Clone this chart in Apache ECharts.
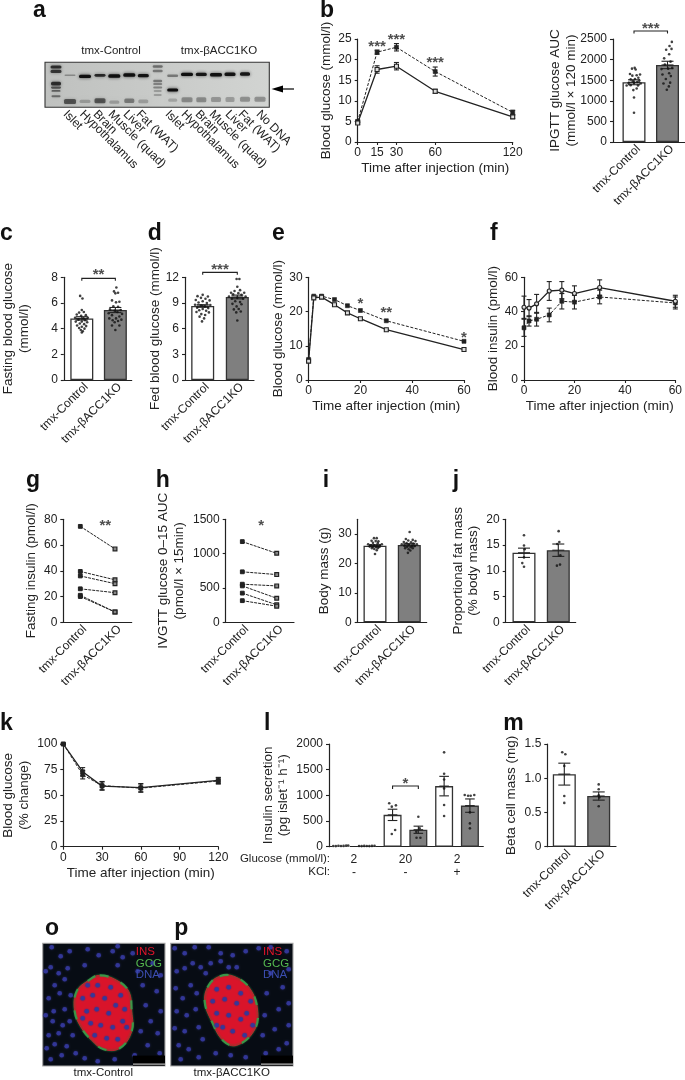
<!DOCTYPE html>
<html><head><meta charset="utf-8">
<style>html,body{margin:0;padding:0;background:#fff}#c{width:685px;height:1080px}</style>
<script src="https://cdn.jsdelivr.net/npm/echarts@6/dist/echarts.min.js"></script>
</head><body><div id="c"></div>
<script>
// ---------- data ----------
const groupNames = ['tmx-Control','tmx-βACC1KO'];
const laneNames = ['Islet','Hypothalamus','Brain','Muscle (quad)','Liver','Fat (WAT)','Islet','Hypothalamus','Brain','Muscle (quad)','Liver','Fat (WAT)','No DNA'];
// gel bands: x, y, width, height, darkness
const gelBands = [
[11,4.4,11,2.5,.75],[11,8.7,11,2.5,.7],[11,21,10,3,.75],[11,25,10,1.8,.55],[11,28.4,9,1.5,.5],[11,33.7,9,1.5,.45],
[25,12.7,11,1.2,.3],[25,38.7,12,4,.55],[40,13.7,12,2.6,.95],[40,38.7,11,2.5,.22],[55,12.7,11,2.2,.8],[55,38,11,4,.55],
[69.3,13.4,12,2.8,.95],[69.3,39.5,10,2.5,.22],[84.3,12.4,12,2.8,.95],[84.3,38,10,3.5,.38],[98.3,13,11,2.6,.92],[98.3,38.7,10,3,.22],
[112.7,4,10,2,.45],[112.7,8.5,10,2,.4],[112.7,18.5,9,2,.4],[112.7,21.5,9,1.5,.35],[112.7,25,9,1.5,.35],[112.7,28.5,8,1.3,.3],[112.7,32.5,8,1.3,.3],
[127.7,13.2,11,2,.4],[127.7,27.4,11,2.4,.98],[127.7,37.5,9,2.5,.2],
[142,11.7,12,2.6,.95],[142,37,11,4,.32],[156.3,11.7,11,2.6,.9],[156.3,37,10,4,.32],[171,12,12,2.8,.95],[171,36.8,10,4,.27],
[185,11.7,11,2.8,.92],[185,36.8,9,4,.25],[200,11.4,10,2.8,.9],[200,36.5,10,4,.3],[215,36.5,11,4,.3]
];
// IPGTT time course, panel b
const tB=[0,15,30,60,120];
const bCtl=[4.6,17.6,18.4,12.3,6.1], bCtlErr=[.3,.9,.9,.5,.4];
const bKO=[5,21.8,23,17.1,7.2], bKOErr=[.3,.5,.9,1.1,.5];
const bStars=[[15,23.8,'***'],[30,25.4,'***'],[60,19.7,'***']];
// IPGTT AUC
const bAUC=[1450,1870], bAUCErr=[60,90];
const bAUCdotsC=[[0,710],[0,1080],[-.02,1260],[.08,1300],[-.22,1370],[-.1,1380],[.12,1370],[.2,1420],[-.16,1430],[0,1440],[.1,1460],[-.04,1480],[.16,1490],[-.1,1520],[.03,1530],[.13,1560],[-.05,1610],[.08,1620],[-.12,1650],[.18,1640],[-.06,1780],[.05,1760],[.02,1800]];
const bAUCdotsK=[[-.02,1270],[.04,1350],[-.12,1420],[.08,1440],[-.05,1530],[.1,1600],[-.15,1640],[.05,1670],[-.18,1770],[.02,1780],[.14,1800],[-.08,1880],[.09,1950],[-.1,2030],[.05,2130],[.12,2260],[-.04,2240],[.06,2330],[.13,2430]];
const cVals=[4.8,5.45], cErr=[.13,.2];
const cDotsC=[[-.05,6.55],[.02,6.35],[0,5.45],[-.08,5.25],[.06,5.3],[-.15,5.1],[.12,5.05],[-.02,5],[-.2,4.85],[.18,4.85],[.05,4.8],[-.1,4.7],[.1,4.65],[0,4.55],[-.18,4.55],[.16,4.5],[-.06,4.4],[.07,4.35],[-.14,4.25],[.13,4.2],[0,4.15],[-.08,4.05],[.08,4],[-.03,3.9],[.03,3.8],[0,3.7]];
const cDotsK=[[.03,7.2],[-.04,6.9],[.08,6.8],[0,6.75],[-.1,6.2],[.12,6.1],[.02,6.05],[-.06,5.75],[.08,5.7],[-.16,5.5],[.16,5.45],[-.02,5.4],[.06,5.3],[-.2,5.2],[.2,5.15],[-.1,5.05],[.12,4.95],[-.18,4.8],[.02,4.8],[.18,4.7],[-.08,4.65],[.08,4.6],[-.02,4.5],[-.1,4.25],[.12,4.25],[0,3.9]];
const dVals=[8.65,9.7], dErr=[.15,.22];
const dDotsC=[[0,9.95],[-.15,9.8],[.15,9.75],[-.05,9.6],[.08,9.5],[-.2,9.35],[.2,9.3],[0,9.2],[-.12,9.05],[.12,9],[-.22,8.8],[.22,8.75],[-.05,8.7],[.06,8.6],[-.16,8.45],[.16,8.4],[0,8.3],[-.1,8.15],[.1,8.1],[-.18,7.95],[.18,7.9],[-.04,7.7],[.07,7.6],[-.09,7.4],[.04,7.2],[-.02,6.85]];
const dDotsK=[[-.02,11.8],[.06,11.8],[0,10.9],[.08,10.5],[-.08,10.4],[-.18,10.2],[.2,10.2],[.03,10.15],[-.12,10],[.12,9.95],[-.24,9.75],[.24,9.75],[0,9.6],[-.16,9.5],[.17,9.5],[-.06,9.2],[.08,9.1],[-.14,8.9],[.12,8.85],[-.02,8.6],[.04,8.3],[-.1,8.25],[.1,8],[-.03,7.9],[0,6.95]];
// ITT / IVGTT panel e
const tE=[0,2,5,10,15,20,30,60];
const eCtl=[5.5,24,24.2,22,19.6,17.9,14.7,8.9], eKO=[6,24.5,24.5,23.5,21.7,20.3,17.3,11.3];
const eStars=[[20,23,'*'],[30,20.2,'**'],[60,13,'*']];
// blood insulin panel f
const fCtl=[42.5,42,44.5,52,52.5,50.5,54,46], fCtlErr=[6.5,5,5.5,5.5,5,4.5,4.5,3.5];
const fKO=[30.5,34.5,35.5,38,46,45.5,48.5,45], fKOErr=[5,3,4,4,4.5,4,4,3.5];
// paired panels
const gPairs=[[74.5,57],[39.5,33],[36,30],[26,23],[21,8],[20,8]];
const gStars=[[1.72,77,'**']];
const hPairs=[[1175,1005],[735,695],[555,530],[530,350],[425,255],[315,235]];
const hStars=[[1.55,1445,'*']];
// body mass, fat mass
const iVals=[26,26.3], iErr=[.35,.4];
const iDotsC=[[-.03,28.6],[.05,28.6],[-.1,27.7],[.02,27.6],[.1,27.5],[-.06,27],[.08,26.9],[-.2,26.5],[.2,26.5],[-.12,26.2],[-.03,26.2],[.06,26.1],[.14,26.1],[-.16,25.8],[-.06,25.7],[.03,25.6],[.12,25.6],[-.09,25.2],[.08,25.2],[-.02,24.9],[.05,24.5],[0,23.2]];
const iDotsK=[[.01,30.7],[-.1,28.3],[.1,28],[-.03,27.8],[.18,27.6],[-.16,27.3],[.05,27.2],[-.08,26.9],[.12,26.8],[-.22,26.5],[.22,26.5],[-.02,26.4],[-.14,26.1],[.08,26],[.16,25.9],[-.06,25.6],[.04,25.5],[-.12,25.2],[.1,25.2],[-.02,24.8],[.03,24.4],[-.04,23.6]];
const jVals=[13.5,14], jErr=[.9,1.2];
const jDotsC=[[0,16.9],[0,14.9],[.02,14.2],[0,12.6],[-.05,11.5],[0,10.8]];
const jDotsK=[[.01,17.7],[.03,15.6],[-.03,15.2],[.06,13],[-.04,11],[.05,11.2]];
// ITT % change
const tK=[0,15,30,60,120];
const kCtl=[100,73,59,57.5,64.5], kKO=[100,70,59.5,57,64], kErr=[.5,4,4,4,3];
// insulin secretion
const lVals=[15,15,620,330,1180,800], lErr=[5,5,110,70,190,130];
const lDots=[
[[-.3,15],[-.2,12],[-.1,18],[0,14],[.1,16],[.2,20],[.28,22]],
[[-.3,14],[-.2,12],[-.1,16],[0,14],[.1,12],[.2,16],[.3,18]],
[[-.13,845],[-.03,780],[.13,805],[.1,325],[-.03,247]],
[[0,584],[.05,357],[-.08,290],[.08,175],[-.07,175]],
[[0,1837],[0,1421],[0,1310],[0,1135],[0,811],[0,597]],
[[-.2,1006],[-.07,993],[.03,993],[.17,1006],[0,668],[0,454],[0,357]]
];
const lGlucose=['2','20','2'], lKCl=['-','-','+'];
// beta cell mass
const mVals=[1.06,.74], mErr=[.16,.06];
const mDotsC=[[-.06,1.38],[.03,1.35],[0,1.18],[0,.74],[0,.64]];
const mDotsK=[[0,.91],[0,.84],[0,.75],[.02,.72],[0,.59]];
// micrographs
const oIslet=[[57,32],[74,37],[86,48],[89,68],[89,88],[77,105],[61,106],[49,97],[39,85],[32,68],[34,48],[46,37]];
const pIslet=[[49,33],[63,33],[79,45],[87,68],[83,88],[66,102],[53,98],[41,78],[34,58],[38,42]];
const oNuclei=[[9,4],[18,13],[27,8],[8,24],[16,30],[25,25],[3,28],[12,42],[22,36],[6,55],[17,50],[28,52],[11,68],[22,66],[3,72],[10,78],[20,82],[27,78],[6,92],[16,90],[30,92],[4,105],[12,101],[24,103],[8,116],[19,112],[33,110],[42,115],[55,118],[72,116],[45,6],[56,12],[70,8],[75,22],[80,14],[90,10],[75,3],[42,22],[95,28],[110,20],[118,32],[100,42],[114,48],[103,62],[118,68],[108,78],[98,88],[115,90],[105,102],[92,112],[117,110],
[45,42],[55,42],[68,44],[78,52],[40,55],[50,52],[62,55],[73,62],[82,66],[44,68],[54,66],[66,70],[80,78],[48,80],[58,82],[70,84],[84,84],[52,92],[64,95],[75,96],[40,75]];
const pNuclei=[[4,5],[14,10],[24,4],[38,4],[50,10],[62,12],[75,8],[88,5],[100,4],[116,8],[6,28],[14,25],[22,20],[30,24],[40,20],[50,18],[58,24],[35,30],[66,24],[5,45],[12,55],[20,42],[26,50],[6,68],[16,72],[25,66],[4,85],[14,88],[28,84],[8,102],[18,106],[32,96],[10,116],[28,114],[45,110],[60,112],[75,114],[95,110],[108,106],[116,100],[92,92],[104,86],[118,82],[94,72],[108,66],[118,60],[96,50],[112,44],[100,30],[118,26],
[46,46],[58,44],[70,50],[80,58],[42,58],[54,56],[66,60],[76,70],[46,70],[58,72],[70,76],[82,82],[52,84],[62,88],[74,92],[46,82]];
const panelCaptions=['INS','GCG','DNA'];

// ---------- layout ----------
const INK='#222', GREY='#7f7f7f', FF='"Liberation Sans",Arial,sans-serif';
const TICK=12, TITLE=13.5, BW=23, XGAP=19.5;
const grids=[],xAxis=[],yAxis=[],series=[],graphic=[];

function axisBase(){return {nameMoveOverlap:false,axisLine:{show:true,onZero:false,lineStyle:{color:INK,width:1.2}},axisTick:{show:true,length:3,lineStyle:{color:INK,width:1.1}},splitLine:{show:false},
  axisLabel:{color:INK,fontSize:TICK,fontFamily:FF,margin:5}};}
function addGrid(b,xc,yc){
  const i=grids.length;
  grids.push({left:b.l,top:b.t,width:b.r-b.l,height:b.b-b.t,containLabel:false});
  const xb=axisBase(),yb=axisBase();
  xAxis.push(Object.assign(xb,{type:'value',gridIndex:i,nameLocation:'middle',nameTextStyle:{color:INK,fontSize:TITLE,fontFamily:FF}},xc,{axisLabel:Object.assign(xb.axisLabel,xc.axisLabel||{}),axisTick:Object.assign(xb.axisTick,xc.axisTick||{})}));
  yAxis.push(Object.assign(yb,{type:'value',gridIndex:i,nameLocation:'middle',nameRotate:90,nameTextStyle:{color:INK,fontSize:TITLE,fontFamily:FF,lineHeight:15.5}},yc,{axisLabel:Object.assign(yb.axisLabel,{margin:6,formatter:v=>String(v)},yc.axisLabel||{}),axisTick:Object.assign(yb.axisTick,yc.axisTick||{})}));
  return i;
}
function errs(i,pts,cap){series.push({type:'custom',xAxisIndex:i,yAxisIndex:i,data:pts,clip:false,z:4,encode:{x:0,y:1},silent:true,
  renderItem(p,api){const x=api.value(0),y=api.value(1),e=api.value(2);const a=api.coord([x,y+e]),b=api.coord([x,y-e]),m=api.coord([x,y]);
    const st={stroke:INK,lineWidth:1.1};const ln=(x1,y1,x2,y2)=>({type:'line',shape:{x1,y1,x2,y2},style:st});
    return {type:'group',children:[ln(a[0],a[1],b[0],b[1]),ln(a[0]-cap,a[1],a[0]+cap,a[1]),ln(b[0]-cap,b[1],b[0]+cap,b[1]),ln(m[0]-cap,m[1],m[0]+cap,m[1])]};}});}
function errsLine(i,pts,cap){series.push({type:'custom',xAxisIndex:i,yAxisIndex:i,data:pts,clip:false,z:2,encode:{x:0,y:1},silent:true,
  renderItem(p,api){const x=api.value(0),y=api.value(1),e=api.value(2);const a=api.coord([x,y+e]),b=api.coord([x,y-e]);
    const st={stroke:INK,lineWidth:1.1};const ln=(x1,y1,x2,y2)=>({type:'line',shape:{x1,y1,x2,y2},style:st});
    return {type:'group',children:[ln(a[0],a[1],b[0],b[1]),ln(a[0]-cap,a[1],a[0]+cap,a[1]),ln(b[0]-cap,b[1],b[0]+cap,b[1])]};}});}
function stars(i,pts,fs){series.push({type:'scatter',xAxisIndex:i,yAxisIndex:i,symbolSize:0,clip:false,z:6,silent:true,data:pts.map(s=>({value:[s[0],s[1]],name:s[2]})),
  label:{show:true,position:'inside',offset:[0,2.5],formatter:q=>q.name,color:INK,fontSize:fs||15,fontFamily:FF,fontWeight:'bold'}});}
function bracket(i,x1,x2,y,drop){series.push({type:'custom',xAxisIndex:i,yAxisIndex:i,data:[[x1,x2,y]],clip:false,z:5,silent:true,encode:{x:[0,1],y:2},
  renderItem(p,api){const a=api.coord([api.value(0),api.value(2)]),b=api.coord([api.value(1),api.value(2)]);
    return {type:'polyline',shape:{points:[[a[0],a[1]+drop],a,b,[b[0],b[1]+drop]]},style:{stroke:INK,lineWidth:1.1,fill:null}};}});}
function lineS(i,xs,ys,dashed,symbol,open){series.push({type:'line',xAxisIndex:i,yAxisIndex:i,data:xs.map((x,k)=>[x,ys[k]]),clip:false,z:3,silent:true,
  symbol,symbolSize:open?4:4,showAllSymbol:true,lineStyle:{color:INK,width:dashed?1:1.3,type:dashed?[3,1.6]:'solid'},itemStyle:{color:open?'#ddd':INK,borderColor:INK,borderWidth:open?1.1:0.6,opacity:1}});}
function dots(i,pos,list){series.push({type:'scatter',xAxisIndex:i,yAxisIndex:i,data:list.map(d=>[pos+d[0],d[1]]),symbolSize:2.6,clip:false,z:5,silent:true,itemStyle:{color:'#111'}});}

function catAxisOpts(b,c1,cN,N,shift){const sp=(cN-c1)/(N-1);const u=shift/sp;return {min:1-(c1-b.l)/sp,max:N+(b.r-cN)/sp,sp,u};}
function rotLabels(o,N){const vals=[];for(let k=1;k<=N;k++)vals.push(k+o.u);
  return {min:o.min,max:o.max,axisTick:{show:false},axisLabel:{customValues:vals,rotate:45,margin:5,hideOverlap:false,formatter:v=>groupNames[Math.round(v)-1]}};}
function barPanel(b,c1,c2,vals,err,dC,dK,yc){
  const o=catAxisOpts(b,c1,c2,2,4.5);const i=addGrid(b,rotLabels(o,2),yc);
  series.push({type:'bar',xAxisIndex:i,yAxisIndex:i,barWidth:BW,z:2,silent:true,data:vals.map((v,k)=>({value:[k+1,v],itemStyle:{color:k?GREY:'#fff',borderColor:'#333',borderWidth:1.3}}))});
  errs(i,vals.map((v,k)=>[k+1,v,err[k]]),6);
  dots(i,1,dC);dots(i,2,dK);return i;
}
function pairPanel(b,c1,c2,pairs,yc,st){
  const o=catAxisOpts(b,c1,c2,2,4.5);const i=addGrid(b,rotLabels(o,2),yc);
  pairs.forEach(p=>series.push({type:'line',xAxisIndex:i,yAxisIndex:i,clip:false,z:3,silent:true,symbol:'rect',symbolSize:3.8,showAllSymbol:true,lineStyle:{color:INK,width:1,type:[3,1]},
    data:[{value:[1,p[0]],itemStyle:{color:INK,borderColor:INK,opacity:1}},{value:[2,p[1]],itemStyle:{color:'#888',borderColor:INK,borderWidth:1.2,opacity:1}}]}));
  stars(i,st);return i;
}
// panel b line
let i=addGrid({l:357.7,r:512.7,t:39,b:142},{min:0,max:120,name:'Time after injection (min)',nameGap:XGAP,axisLabel:{customValues:tB},axisTick:{customValues:tB}},{min:0,max:25,interval:5,name:'Blood glucose (mmol/l)',nameGap:23.7});
errsLine(i,tB.map((t,k)=>[t,bCtl[k],bCtlErr[k]]),2.5);errsLine(i,tB.map((t,k)=>[t,bKO[k],bKOErr[k]]),2.5);
lineS(i,tB,bKO,true,'rect',false);lineS(i,tB,bCtl,false,'rect',true);stars(i,bStars);
// panel b bar
i=barPanel({l:613,r:685,t:39,b:142},634,667.5,bAUC,bAUCErr,bAUCdotsC,bAUCdotsK,{min:0,max:2500,interval:500,name:'IPGTT glucose AUC\n(mmol/l × 120 min)',nameGap:34.4});
bracket(i,1,2,2694,2.5);stars(i,[[1.5,2800,'***']]);
// c
i=barPanel({l:62.3,r:131.7,t:277.3,b:380},80.7,115,cVals,cErr,cDotsC,cDotsK,{min:0,max:8,interval:2,name:'Fasting blood glucose\n(mmol/l)',nameGap:31.8});
bracket(i,1,2,7.92,2.5);stars(i,[[1.5,8.4,'**']]);
// d
i=barPanel({l:185,r:254,t:277.3,b:380},202.7,237.3,dVals,dErr,dDotsC,dDotsK,{min:0,max:12,interval:3,name:'Fed blood glucose (mmol/l)',nameGap:21.5});
bracket(i,1,2,12.58,2.5);stars(i,[[1.5,13.2,'***']]);
// e
i=addGrid({l:308.6,r:464,t:277.3,b:380},{min:0,max:60,interval:20,name:'Time after injection (min)',nameGap:XGAP},{min:0,max:30,interval:10,name:'Blood glucose (mmol/l)',nameGap:23});
lineS(i,tE,eKO,true,'rect',false);lineS(i,tE,eCtl,false,'rect',true);stars(i,eStars);
// f
i=addGrid({l:524,r:679.3,t:277.3,b:380},{min:0,max:60,interval:20,name:'Time after injection (min)',nameGap:XGAP},{min:0,max:60,interval:20,name:'Blood insulin (pmol/l)',nameGap:23});
errsLine(i,tE.map((t,k)=>[t,fCtl[k],fCtlErr[k]]),2.5);errsLine(i,tE.map((t,k)=>[t,fKO[k],fKOErr[k]]),2.5);
lineS(i,tE,fKO,true,'rect',false);lineS(i,tE,fCtl,false,'circle',true);
// g,h
pairPanel({l:63.3,r:131.7,t:519.3,b:622.3},80.3,115,gPairs,{min:0,max:80,interval:20,name:'Fasting insulin (pmol/l)',nameGap:24.3},gStars);
pairPanel({l:225.7,r:294,t:519.3,b:622.3},242.3,276.7,hPairs,{min:0,max:1500,interval:500,name:'IVGTT glucose 0–15 AUC\n(pmol/l × 15min)',nameGap:38.7},hStars);
// i,j
barPanel({l:357.7,r:426.7,t:519.3,b:622.3},375,409.3,iVals,iErr,iDotsC,iDotsK,{min:0,max:35,interval:10,name:'Body mass (g)',nameGap:25.7,axisLabel:{customValues:[0,10,20,30]},axisTick:{customValues:[0,10,20,30]}});
barPanel({l:505.7,r:575.7,t:519.3,b:622.3},524,558.3,jVals,jErr,jDotsC,jDotsK,{min:0,max:20,interval:5,name:'Proportional fat mass\n(% body mass)',nameGap:24.2});
// k
i=addGrid({l:63.3,r:218.3,t:744,b:846.7},{min:0,max:120,interval:30,name:'Time after injection (min)',nameGap:XGAP},{min:0,max:100,interval:25,name:'Blood glucose\n(% change)',nameGap:31.3});
errsLine(i,tK.map((t,k)=>[t,kCtl[k],kErr[k]]),2.5);errsLine(i,tK.map((t,k)=>[t,kKO[k],kErr[k]]),2.5);
lineS(i,tK,kKO,true,'rect',false);lineS(i,tK,kCtl,false,'rect',false);
// l
{const b={l:329,r:483.3,t:744,b:846.7};const sp=25.78,c1=341;
 i=addGrid(b,{min:1-(c1-b.l)/sp,max:6+(b.r-(c1+5*sp))/sp,axisTick:{show:false},
  axisLabel:{customValues:[1.5,3.5,5.5],lineHeight:13,margin:6,formatter:v=>{const k=Math.round((v-1.5)/2);return lGlucose[k]+'\n'+lKCl[k];}}},
  {min:0,max:2000,interval:500,name:'Insulin secretion\n(pg islet⁻¹ h⁻¹)',nameGap:37.5});
 series.push({type:'bar',xAxisIndex:i,yAxisIndex:i,barWidth:18,z:2,silent:true,data:lVals.map((v,k)=>({value:[k+1,v],itemStyle:{color:k%2?GREY:'#fff',borderColor:'#333',borderWidth:k<2?0:1.3}}))});
 errs(i,lVals.slice(2).map((v,k)=>[k+3,v,lErr[k+2]]),4.8);
 lDots.forEach((d,k)=>dots(i,k+1,d));
 bracket(i,3,4,1182,3);stars(i,[[3.5,1266,'*']]);
}
// m
barPanel({l:547.3,r:616,t:744,b:846.7},564.3,598.7,mVals,mErr,mDotsC,mDotsK,{min:0,max:1.5,interval:.5,name:'Beta cell mass (mg)',nameGap:28.3,axisLabel:{formatter:v=>v===0?'0':v.toFixed(1)}});

// hidden pixel-scale grids for gel and micrographs
function hiddenGrid(b,w,h,bg,border){const k=grids.length;
  grids.push({left:b.l,top:b.t,width:b.r-b.l,height:b.b-b.t,show:true,backgroundColor:bg,borderColor:border,borderWidth:1.1,containLabel:false});
  xAxis.push({type:'value',gridIndex:k,min:0,max:w,show:false});yAxis.push({type:'value',gridIndex:k,min:0,max:h,inverse:true,show:false});return k;}
// gel
{const k=hiddenGrid({l:45,r:269.3,t:62.3,b:107.3},224.3,45,{type:'linear',x:0,y:0,x2:1,y2:0,colorStops:[{offset:0,color:'#bfc1bf'},{offset:1,color:'#d2d4d2'}]},'#333');
 series.push({type:'custom',xAxisIndex:k,yAxisIndex:k,data:gelBands,clip:true,silent:true,z:2,encode:{x:0,y:1},renderItem(p,api){
  const c=api.coord([api.value(0),api.value(1)]),w=api.size([api.value(2),api.value(3)]);const a=api.value(4);
  return {type:'rect',shape:{x:c[0]-w[0]/2,y:c[1]-w[1]/2,width:w[0],height:w[1]*1.25,r:1.5},style:{fill:'rgba(10,10,10,'+a+')',shadowBlur:3.5,shadowColor:'rgba(10,10,10,'+a*0.8+')'}};}});
 const laneX=[20,36.7,50,65,80,93,122,138,152,166,182,195,213];
 grids.push({left:45,top:62.3,width:224.3,height:45,containLabel:false});const q=grids.length-1;
 xAxis.push({type:'value',gridIndex:q,min:0,max:224.3,axisLine:{show:false},axisTick:{show:false},splitLine:{show:false},
  axisLabel:{customValues:laneX,rotate:-45,margin:5,hideOverlap:false,color:INK,fontSize:TICK,fontFamily:FF,formatter:v=>laneNames[laneX.indexOf(v)]}});
 yAxis.push({type:'value',gridIndex:q,show:false});
 series.push({type:'scatter',xAxisIndex:q,yAxisIndex:q,data:[],silent:true});
}
function micro(b,islet,nuclei){
 const k=hiddenGrid(b,122.3,122.7,'#070c14','#a8a8a8');
 series.push({type:'custom',xAxisIndex:k,yAxisIndex:k,data:[0],clip:true,silent:true,z:2,renderItem(p,api){
  const pts=islet.map(q=>api.coord(q));
  return {type:'group',children:[
   {type:'polygon',shape:{points:pts,smooth:0.4},style:{fill:'#d9142a',stroke:'#c4202c',lineWidth:1,shadowBlur:2,shadowColor:'#2a7a3a'}},
   {type:'polygon',shape:{points:pts,smooth:0.4},style:{fill:null,stroke:'#33a04a',lineWidth:2.2,lineDash:[9,13],opacity:.9}}]};}});
 series.push({type:'scatter',xAxisIndex:k,yAxisIndex:k,data:nuclei,symbolSize:4.6,clip:true,silent:true,z:3,itemStyle:{color:'#34389c',opacity:.9,shadowBlur:2,shadowColor:'#2a2e80'}});
 series.push({type:'custom',xAxisIndex:k,yAxisIndex:k,data:[0],clip:false,silent:true,z:4,renderItem(p,api){
  const a=api.coord([90.3,112.3]),w=api.size([32,10]);
  return {type:'group',children:[{type:'rect',shape:{x:a[0],y:a[1],width:w[0],height:w[1]},style:{fill:'#000'}},{type:'rect',shape:{x:a[0],y:a[1]+8,width:w[0],height:1},style:{fill:'#e5e5e5'}}]};}});
}
micro({l:42.7,r:165,t:943.3,b:1066},oIslet,oNuclei);
micro({l:170.7,r:293,t:943.3,b:1066},pIslet,pNuclei);

// text overlays
function T(x,y,t,o){graphic.push({type:'text',x,y,z:20,silent:true,style:Object.assign({text:t,fill:INK,font:'12px '+FF,textVerticalAlign:'middle',textAlign:'left'},o||{})});}
[['a',33,17],['b',320,17],['c',0,239.3],['d',147.7,239.3],['e',272,239.3],['f',490,239.3],['g',26,487],['h',155.7,487],['i',322.7,487],['j',452.7,487],['k',0,729.3],['l',264,729.3],['m',503.3,729.3],['o',45,934.3],['p',174.3,934.3]]
 .forEach(a=>T(a[1],a[2]-6,a[0],{font:'bold 23px '+FF,fill:'#111'}));
T(111,50.7,groupNames[0],{textAlign:'center',font:'11.5px '+FF});
T(219,50.7,groupNames[1],{textAlign:'center',font:'11.5px '+FF});
T(103.3,1073,groupNames[0],{textAlign:'center',font:'11.5px '+FF});
T(231.7,1073,groupNames[1],{textAlign:'center',font:'11.5px '+FF});
T(330,858.7,'Glucose (mmol/l):',{textAlign:'right',font:'11.5px '+FF});
T(330,871.7,'KCl:',{textAlign:'right',font:'11.5px '+FF});
[[135.7],[263]].forEach(([x])=>{['#e0142a','#55b84f','#3b4db0'].forEach((c,n)=>T(x,951.7+n*11.7,panelCaptions[n],{fill:c,font:'11.5px '+FF}));});
// gel arrow
graphic.push({type:'polygon',z:20,silent:true,shape:{points:[[271.5,89],[283,85.5],[283,92.5]]},style:{fill:'#000'}});
graphic.push({type:'line',z:20,silent:true,shape:{x1:280,y1:89,x2:294,y2:89},style:{stroke:'#000',lineWidth:1.2}});

const chart=echarts.init(document.getElementById('c'),null,{renderer:'canvas',width:685,height:1080});
chart.setOption({animation:false,backgroundColor:'#fff',tooltip:{show:false},grid:grids,xAxis,yAxis,series,graphic});
</script></body></html>
